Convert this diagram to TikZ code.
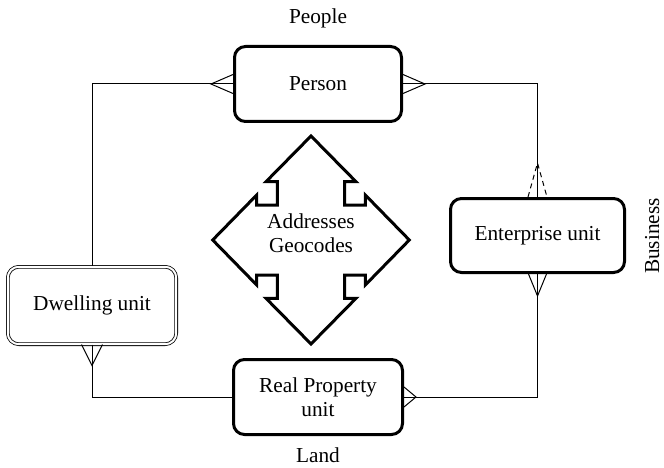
\documentclass[tikz,border=0pt]{standalone}
\usepackage{fontspec}
\setmainfont{Liberation Serif}
\usetikzlibrary{calc}
\begin{document}
\begin{tikzpicture}[x=1pt,y=-1pt,
  every node/.style={font=\fontsize{21.3}{24.5}\selectfont, align=center, inner sep=0pt},
  entity/.style={draw, line width=3pt, rounded corners=11pt},
  weakentity/.style={draw, line width=0.8pt, double=white, double distance=2pt, rounded corners=11pt},
  link/.style={line width=1pt},
  optlink/.style={line width=1pt, dash pattern=on 5pt off 4pt},
  hub/.style={line width=3pt, miter limit=10}
]
\useasboundingbox (0,0) rectangle (664,468);

% entities
\node[entity, minimum width=167pt, minimum height=75pt] (person) at (318,84) {Person};
\node[entity, minimum width=169pt, minimum height=75pt] (rp) at (318,397) {Real Property\\unit};
\node[entity, minimum width=174pt, minimum height=74pt] (ent) at (537.5,235.5) {Enterprise unit};
\node[weakentity, minimum width=168.4pt, minimum height=77.4pt] (dwell) at (92,305.5) {Dwelling unit};

% labels
\node (people) at (318,18) {People};
\node (land) at (318,455) {Land};
\node[rotate=90, anchor=base] (business) at (659,236) {Business};

% central hub
\draw[hub, shift={(311,240)}]
  (0,-104) -- (-45,-58.3) -- (-33.7,-58.3) -- (-33.7,-35) -- (-54.3,-35) -- (-54.3,-45)
  -- (-98.3,0)
  -- (-54.3,45) -- (-54.3,35) -- (-33.7,35) -- (-33.7,58.3) -- (-45,58.3)
  -- (0,104)
  -- (45,58.3) -- (33.7,58.3) -- (33.7,35) -- (54.3,35) -- (54.3,45)
  -- (98.3,0)
  -- (54.3,-45) -- (54.3,-35) -- (33.7,-35) -- (33.7,-58.3) -- (45,-58.3)
  -- cycle;
\node (addr) at (311,233) {Addresses\\Geocodes};

% connectors
\draw[link] (person.west) -| (dwell.north);
\draw[link] (person.east) -| (ent.north);
\draw[link] (ent.south) |- (rp.east);
\draw[link] (dwell.south) |- (rp.west);

% crow's feet
\draw[link] ($(person.west)+(0,-9.5)$) -- ++(-22,9.5) -- ++(22,9.5);
\draw[link] ($(person.east)+(0,-9.5)$) -- ++(22,9.5) -- ++(-22,9.5);
\draw[optlink] ($(ent.north)+(-9.5,0)$) -- ++(9.5,-34) -- ++(9.5,34);
\draw[link] ($(ent.south)+(-9,0)$) -- ++(9,22) -- ++(9,-22);
\draw[link] ($(dwell.south)+(-10.5,0)$) -- ++(10.5,21) -- ++(10.5,-21);
\draw[link] ($(rp.east)+(0,-10)$) -- ++(12,10) -- ++(-12,10);
\end{tikzpicture}
\end{document}
